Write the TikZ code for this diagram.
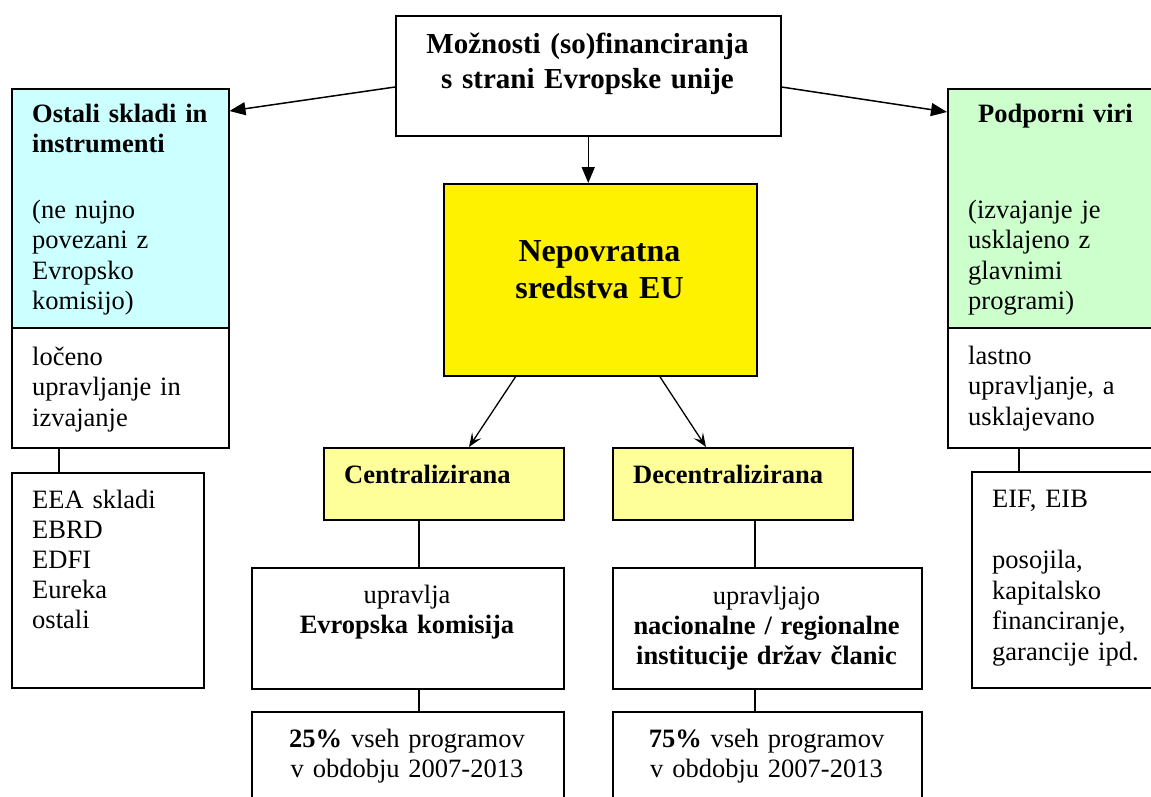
\documentclass[tikz,border=0pt]{standalone}
\usepackage{fontspec}
\setmainfont{Liberation Serif}
\usetikzlibrary{arrows.meta}

\definecolor{cyanfill}{HTML}{CCFFFF}
\definecolor{greenfill}{HTML}{CCFFCC}
\definecolor{paleyellow}{HTML}{FFFF99}

\tikzset{
  box/.style={draw, line width=1.5pt, anchor=north west, inner sep=0pt},
  txt/.style={anchor=base west, inner sep=0pt, align=left, font=\fontsize{26.5}{30.5}\selectfont},
  ctxt/.style={anchor=base, inner sep=0pt, align=center, font=\fontsize{26.5}{30}\selectfont},
  tri/.style={-{Triangle[length=16pt,width=13pt]}, line width=1.5pt},
  barb/.style={-{Stealth[length=14pt,width=11pt,inset=6pt]}, line width=1.3pt},
  link/.style={line width=1.5pt}
}

\begin{document}
\begin{tikzpicture}[x=1pt, y=-1pt]
    \clip (0,0) rectangle (1151,796);
    \node[box, fill=white, minimum width=385pt, minimum height=120pt] (moznosti) at (395,15) {};
    \node[ctxt, text width=370pt, font=\bfseries\fontsize{29}{35}\selectfont] (moznosti-t) at (587.5,53) {Možnosti (so)financiranja\\s strani Evropske unije};

    \node[box, fill=yellow, minimum width=313pt, minimum height=192pt] (nepovratna) at (443,183) {};
    \node[ctxt, text width=300pt, font=\bfseries\fontsize{32}{37}\selectfont] (nepovratna-t) at (599.5,261) {Nepovratna\\sredstva EU};

    % levi stolpec
    \node[box, fill=cyanfill, minimum width=217pt, minimum height=239pt] (ostali) at (11,88) {};
    \node[txt, text width=195pt] (ostali-t) at (32,122) {\textbf{Ostali skladi in}\\\textbf{instrumenti}\\[35pt](ne nujno\\povezani z\\Evropsko\\komisijo)};
    \node[box, fill=white, minimum width=217pt, minimum height=120pt] (loceno) at (11,327) {};
    \node[txt, text width=195pt] (loceno-t) at (32,365) {ločeno\\upravljanje in\\izvajanje};
    \node[box, fill=white, minimum width=192pt, minimum height=215pt] (eea) at (11,472) {};
    \node[txt, text width=170pt, font=\fontsize{26.5}{30.2}\selectfont] (eea-t) at (32,508) {EEA skladi\\EBRD\\EDFI\\Eureka\\ostali};

    % desni stolpec
    \node[box, fill=greenfill, minimum width=217pt, minimum height=239pt] (podporni) at (947,88) {};
    \node[ctxt, text width=210pt, font=\bfseries\fontsize{26.5}{30}\selectfont] (podporni-h) at (1055.5,122) {Podporni viri};
    \node[txt, text width=190pt] (podporni-t) at (968,218) {(izvajanje je\\usklajeno z\\glavnimi\\programi)};
    \node[box, fill=white, minimum width=217pt, minimum height=120pt] (lastno) at (947,327) {};
    \node[txt, text width=190pt] (lastno-t) at (968,364) {lastno\\upravljanje, a\\usklajevano};
    \node[box, fill=white, minimum width=192pt, minimum height=216pt] (eif) at (971,471) {};
    \node[txt, text width=170pt] (eif-t) at (992,507) {EIF, EIB\\[31pt]posojila,\\kapitalsko\\financiranje,\\garancije ipd.};

    % sredina
    \node[box, fill=paleyellow, minimum width=240pt, minimum height=72pt] (central) at (323,447) {};
    \node[txt, text width=220pt, font=\bfseries\fontsize{26.5}{30}\selectfont] (central-t) at (344,483) {Centralizirana};
    \node[box, fill=paleyellow, minimum width=240pt, minimum height=72pt] (decentral) at (612,447) {};
    \node[txt, text width=220pt, font=\bfseries\fontsize{26.5}{30}\selectfont] (decentral-t) at (633,483) {Decentralizirana};

    \node[box, fill=white, minimum width=312pt, minimum height=121pt] (komisija) at (251,567) {};
    \node[ctxt, text width=300pt] (komisija-t) at (407,603) {upravlja\\\textbf{Evropska komisija}};
    \node[box, fill=white, minimum width=309pt, minimum height=121pt] (institucije) at (612,567) {};
    \node[ctxt, text width=300pt] (institucije-t) at (766.5,604) {upravljajo\\\textbf{nacionalne / regionalne}\\\textbf{institucije držav članic}};

    \node[box, fill=white, minimum width=312pt, minimum height=120pt] (delez25) at (251,711) {};
    \node[ctxt, text width=300pt] (delez25-t) at (407,747) {\textbf{25\%} vseh programov\\v obdobju 2007-2013};
    \node[box, fill=white, minimum width=309pt, minimum height=120pt] (delez75) at (612,711) {};
    \node[ctxt, text width=300pt] (delez75-t) at (766.5,747) {\textbf{75\%} vseh programov\\v obdobju 2007-2013};

    % puscice
    \draw[tri] (moznosti.south) -- (moznosti.south |- nepovratna.north);
    \draw[tri] ([yshift=-72pt]moznosti.north west) -- ([yshift=-23pt]ostali.north east);
    \draw[tri] ([yshift=-72pt]moznosti.north east) -- ([yshift=-24pt]podporni.north west);
    \draw[barb] ([xshift=-84.5pt]nepovratna.south) -- ([xshift=146pt]central.north west);
    \draw[barb] ([xshift=59.5pt]nepovratna.south) -- ([xshift=94pt]decentral.north west);

    % povezave
    \draw[link] ([xshift=48pt]loceno.south west) -- ([xshift=48pt]loceno.south west |- eea.north);
    \draw[link] ([xshift=72pt]lastno.south west) -- ([xshift=72pt]lastno.south west |- eif.north);
    \draw[link] ([xshift=96pt]central.south west) -- ([xshift=96pt]central.south west |- komisija.north);
    \draw[link] ([xshift=168pt]komisija.south west) -- ([xshift=168pt]komisija.south west |- delez25.north);
    \draw[link] ([xshift=143pt]decentral.south west) -- ([xshift=143pt]decentral.south west |- institucije.north);
    \draw[link] ([xshift=143pt]institucije.south west) -- ([xshift=143pt]institucije.south west |- delez75.north);
\end{tikzpicture}
\end{document}
